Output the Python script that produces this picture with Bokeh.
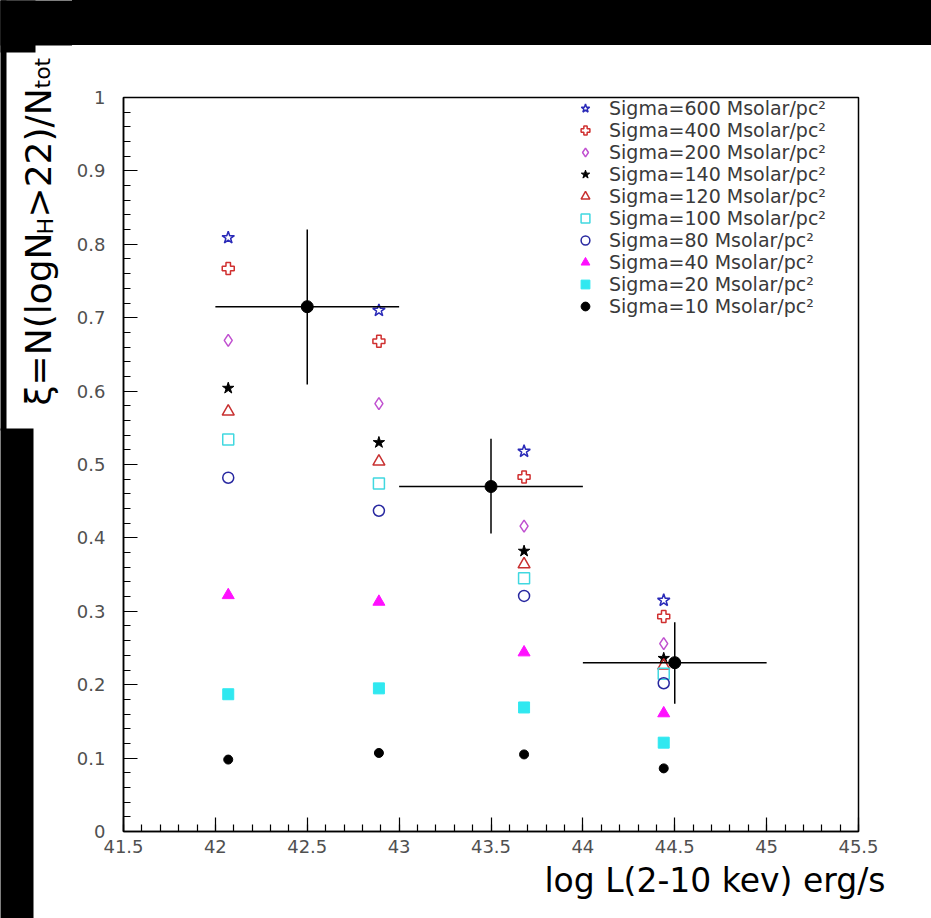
import numpy as np
from bokeh.plotting import figure
from bokeh.models import FixedTicker, Label, BoxAnnotation, Title, Range1d, Spacer
from bokeh.layouts import row, column
from bokeh.embed import file_html
from bokeh.resources import INLINE

# ---------------- data ----------------
lum_cols = [42.07, 42.89, 43.68, 44.44]

sigma_labels = [
    "Sigma=600 Msolar/pc²", "Sigma=400 Msolar/pc²", "Sigma=200 Msolar/pc²",
    "Sigma=140 Msolar/pc²", "Sigma=120 Msolar/pc²", "Sigma=100 Msolar/pc²",
    "Sigma=80 Msolar/pc²", "Sigma=40 Msolar/pc²", "Sigma=20 Msolar/pc²",
    "Sigma=10 Msolar/pc²",
]
xi_600 = [0.809, 0.710, 0.518, 0.315]
xi_400 = [0.767, 0.668, 0.483, 0.293]
xi_200 = [0.669, 0.583, 0.416, 0.256]
xi_140 = [0.604, 0.530, 0.382, 0.236]
xi_120 = [0.572, 0.504, 0.364, 0.226]
xi_100 = [0.534, 0.474, 0.345, 0.215]
xi_80 = [0.482, 0.437, 0.321, 0.202]
xi_40 = [0.322, 0.313, 0.244, 0.161]
xi_20 = [0.187, 0.195, 0.169, 0.121]
xi_10 = [0.098, 0.107, 0.105, 0.086]

bin_center = [42.5, 43.5, 44.5]
bin_lo = [42.0, 43.0, 44.0]
bin_hi = [43.0, 44.0, 45.0]
xi_obs = [0.715, 0.470, 0.230]
xi_obs_lo = [0.609, 0.406, 0.174]
xi_obs_hi = [0.820, 0.535, 0.285]

x_ticks = [41.5, 42.0, 42.5, 43.0, 43.5, 44.0, 44.5, 45.0, 45.5]
x_tick_labels = ["41.5", "42", "42.5", "43", "43.5", "44", "44.5", "45", "45.5"]
y_ticks = [0.0, 0.1, 0.2, 0.3, 0.4, 0.5, 0.6, 0.7, 0.8, 0.9, 1.0]
y_tick_labels = ["0", "0.1", "0.2", "0.3", "0.4", "0.5", "0.6", "0.7", "0.8", "0.9", "1"]

x_title = "log L(2-10 kev) erg/s"
y_title_parts = ["ξ=N(logN", "H", ">22)/N", "tot"]

# ---------------- geometry ----------------
W, H = 931, 918
LW = 72          # width of the left strip (y title)
TOP = 45         # black strip at the top
MW, MH = W - LW, H - TOP

# ---------------- main figure ----------------
p = figure(width=MW, height=MH, x_range=(41.5, 45.5), y_range=(0, 1),
           output_backend="svg", toolbar_location=None,
           min_border_left=123 - LW, min_border_right=W - 858,
           min_border_top=97 - TOP, min_border_bottom=H - 831)
p.background_fill_color = "white"
p.border_fill_color = "white"
p.xgrid.visible = False
p.ygrid.visible = False
p.outline_line_color = "black"
p.outline_line_width = 1.5

x_minor = [round(v, 2) for v in np.arange(41.5, 45.51, 0.1)]
y_minor = [round(v, 2) for v in np.arange(0.0, 1.001, 0.02)]
p.xaxis.ticker = FixedTicker(ticks=x_ticks, minor_ticks=x_minor)
p.yaxis.ticker = FixedTicker(ticks=y_ticks, minor_ticks=y_minor)
p.xaxis.major_label_overrides = dict(zip(x_ticks, x_tick_labels))
p.yaxis.major_label_overrides = dict(zip(y_ticks, y_tick_labels))

for ax in (p.xaxis, p.yaxis):
    ax.major_tick_in = 14
    ax.major_tick_out = 0
    ax.minor_tick_in = 7
    ax.minor_tick_out = 0
    ax.axis_line_width = 1.5
    ax.major_tick_line_width = 1.2
    ax.minor_tick_line_width = 1.2
    ax.major_label_text_font = "DejaVu Sans"
    ax.major_label_text_font_size = "18px"
    ax.major_label_text_color = "#505050"
p.xaxis.major_label_standoff = 8
p.yaxis.major_label_standoff = 18

# ---------------- markers ----------------
specs = [
    (xi_600, "star", 13, "#2a2ab8", None),
    (xi_400, "plus", 12, "#d03030", None),
    (xi_200, "diamond", 12, "#c050d0", None),
    (xi_140, "star", 12, "black", "black"),
    (xi_120, "triangle", 12, "#c83030", None),
    (xi_100, "square", 11, "#40d8e0", None),
    (xi_80, "circle", 11, "#2828a0", None),
    (xi_40, "triangle", 12, "#ff10ff", "#ff10ff"),
    (xi_20, "square", 11, "#30e8f0", "#30e8f0"),
    (xi_10, "circle", 9, "black", "black"),
]
for (vals, mk, sz, lc, fc), lab in zip(specs, sigma_labels):
    if fc is None:
        p.scatter(lum_cols, vals, marker=mk, size=sz, line_color=lc,
                  fill_color="white", fill_alpha=0.0, line_width=1.5,
                  legend_label=lab)
    else:
        p.scatter(lum_cols, vals, marker=mk, size=sz, line_color=lc,
                  fill_color=fc, line_width=1.0, legend_label=lab)

# observed points with error bars
p.segment(x0=bin_lo, y0=xi_obs, x1=bin_hi, y1=xi_obs, line_color="black", line_width=1.5)
p.segment(x0=bin_center, y0=xi_obs_lo, x1=bin_center, y1=xi_obs_hi, line_color="black", line_width=1.5)
p.scatter(bin_center, xi_obs, marker="circle", size=12, color="black")

lg = p.legend[0]
lg.location = (451, 514)
lg.padding = 0
lg.margin = 0
lg.spacing = 0
lg.glyph_width = 22
lg.glyph_height = 22
lg.label_height = 22
lg.label_standoff = 13
lg.label_text_font = "DejaVu Sans"
lg.label_text_font_size = "19px"
lg.label_text_color = "#3a3a3a"
lg.border_line_alpha = 0
lg.background_fill_alpha = 0

# x axis title (right aligned, below the axis)
p.add_layout(Title(text=x_title, align="right", offset=-27, standoff=6,
                   text_font="DejaVu Sans", text_font_size="33px",
                   text_font_style="normal", text_color="black"), "below")

# ---------------- left strip with the y title ----------------
q = figure(width=LW, height=H, x_range=Range1d(0, LW), y_range=Range1d(H, 0),
           output_backend="svg", toolbar_location=None,
           x_axis_type=None, y_axis_type=None, min_border=0)
q.xgrid.visible = False
q.ygrid.visible = False
q.outline_line_color = None
q.background_fill_color = "white"
q.border_fill_color = "white"
for (l, r, t, b) in [(-5, LW + 5, -5, TOP), (-5, 35, -5, 52), (-5, 6, -5, 430), (-5, 33, 428, H + 5)]:
    q.add_layout(BoxAnnotation(left=l, right=r, top=t, bottom=b,
                               fill_color="black", fill_alpha=1.0, line_alpha=0))

ang = np.pi / 2
part_pos = [(38, 405, "36px"), (45, 234, "22px"), (38, 217, "36px"), (42, 88, "22px")]
for txt, (xx, yy, fs) in zip(y_title_parts, part_pos):
    q.add_layout(Label(x=xx, y=yy, text=txt, angle=ang, text_align="left",
                       text_baseline="alphabetic", text_font="DejaVu Sans",
                       text_font_size=fs, text_color="black"))

top_strip = Spacer(width=MW, height=TOP, styles={"background-color": "black"})
layout = row(q, column(top_strip, p, spacing=0), spacing=0)

open("out.html", "w").write(file_html(layout, INLINE))
